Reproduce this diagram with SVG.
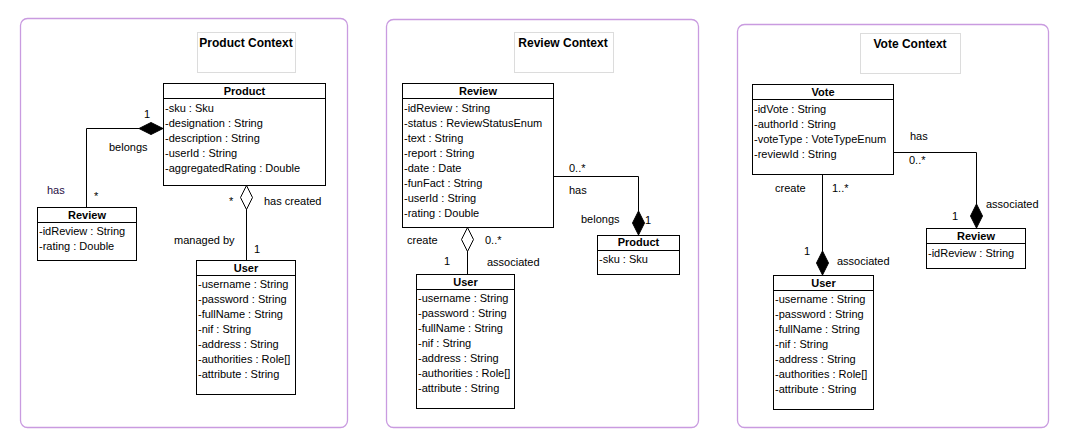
<svg xmlns="http://www.w3.org/2000/svg" width="1072" height="445" viewBox="0 0 1072 445">
<style>
text{font-family:"Liberation Sans",Arial,sans-serif;font-size:11px;fill:#000}
.frame{fill:none;stroke:#C99BE0;stroke-width:1.3}
.ctx{fill:#fff;stroke:#DCDCDC;stroke-width:1}
.ctxt{font-weight:bold;font-size:12px;text-anchor:middle}
.cls{fill:#fff;stroke:#000;stroke-width:1}
.sep{stroke:#000;stroke-width:1}
.ttl{font-weight:bold;text-anchor:middle}
.ln{fill:none;stroke:#000;stroke-width:1}
.fd{fill:#000;stroke:#000;stroke-width:1}
.hd{fill:#fff;stroke:#000;stroke-width:1}
</style>
<rect fill="#fff" x="0" y="0" width="1072" height="445"/>

<g id="product-context">
<rect class="frame" x="20.5" y="18.5" width="327" height="409" rx="7"/>
<rect class="ctx" x="197.5" y="32.5" width="98" height="40"/>
<text class="ctxt" x="246" y="47">Product Context</text>
</g>
<g id="review-context">
<rect class="frame" x="386.5" y="19.5" width="312" height="408" rx="7"/>
<rect class="ctx" x="514.5" y="32.5" width="99" height="40"/>
<text class="ctxt" x="563" y="47">Review Context</text>
</g>
<g id="vote-context">
<rect class="frame" x="737.5" y="24.5" width="311" height="403" rx="7"/>
<rect class="ctx" x="860.5" y="33.5" width="100" height="40"/>
<text class="ctxt" x="910" y="48">Vote Context</text>
</g>

<g id="connectors">
<!-- context 1 -->
<polyline class="ln" points="139,128.5 86.5,128.5 86.5,207"/>
<polygon class="fd" points="163,128.5 151,122.5 139,128.5 151,134.5"/>
<line class="ln" x1="246.5" y1="209" x2="246.5" y2="260"/>
<polygon class="hd" points="246.5,185.5 252.5,197.5 246.5,209.5 240.5,197.5"/>
<!-- context 2 -->
<polyline class="ln" points="553,176.5 638.5,176.5 638.5,211"/>
<polygon class="fd" points="638.5,211 644.5,223 638.5,235 632.5,223"/>
<line class="ln" x1="467.5" y1="251" x2="467.5" y2="274"/>
<polygon class="hd" points="467.5,227.5 473.5,239.5 467.5,251.5 461.5,239.5"/>
<!-- context 3 -->
<polyline class="ln" points="893,152.5 976.5,152.5 976.5,204"/>
<polygon class="fd" points="976.5,204 982.5,216 976.5,228 970.5,216"/>
<line class="ln" x1="822.5" y1="174" x2="822.5" y2="251"/>
<polygon class="fd" points="822.5,251 828.5,263 822.5,275 816.5,263"/>
<!-- labels -->
<text x="144" y="118">1</text>
<text x="109" y="151">belongs</text>
<text x="47" y="194" style="fill:#2a1045">has</text>
<text x="94" y="200">*</text>
<text x="229" y="205">*</text>
<text x="264" y="205">has created</text>
<text x="174" y="244">managed by</text>
<text x="254" y="253">1</text>

<text x="569" y="172">0..*</text>
<text x="569" y="194">has</text>
<text x="581" y="223">belongs</text>
<text x="645" y="224">1</text>
<text x="407" y="244">create</text>
<text x="485" y="244">0..*</text>
<text x="444" y="265">1</text>
<text x="487" y="266">associated</text>

<text x="910" y="140">has</text>
<text x="909" y="164">0..*</text>
<text x="986" y="208">associated</text>
<text x="952" y="220">1</text>
<text x="775" y="192">create</text>
<text x="832" y="192">1..*</text>
<text x="804" y="255">1</text>
<text x="837" y="265">associated</text>
</g>

<g id="product-1">
<rect class="cls" x="163.5" y="83.5" width="162" height="102"/>
<line class="sep" x1="163.5" y1="98.5" x2="325.5" y2="98.5"/>
<text class="ttl" x="244.5" y="95">Product</text>
<text x="165" y="112">-sku : Sku</text>
<text x="165" y="127">-designation : String</text>
<text x="165" y="142">-description : String</text>
<text x="165" y="157">-userId : String</text>
<text x="165" y="172">-aggregatedRating : Double</text>
</g>
<g id="review-1">
<rect class="cls" x="37.5" y="207.5" width="99" height="53"/>
<line class="sep" x1="37.5" y1="222.5" x2="136.5" y2="222.5"/>
<text class="ttl" x="87" y="219">Review</text>
<text x="39" y="235">-idReview : String</text>
<text x="39" y="250">-rating : Double</text>
</g>
<g id="user-1">
<rect class="cls" x="196.5" y="260.5" width="99" height="134"/>
<line class="sep" x1="196.5" y1="275.5" x2="295.5" y2="275.5"/>
<text class="ttl" x="246" y="272">User</text>
<text x="198" y="288">-username : String</text>
<text x="198" y="303">-password : String</text>
<text x="198" y="318">-fullName : String</text>
<text x="198" y="333">-nif : String</text>
<text x="198" y="348">-address : String</text>
<text x="198" y="363">-authorities : Role[]</text>
<text x="198" y="378">-attribute : String</text>
</g>

<g id="review-2">
<rect class="cls" x="402.5" y="83.5" width="151" height="144"/>
<line class="sep" x1="402.5" y1="98.5" x2="553.5" y2="98.5"/>
<text class="ttl" x="478" y="95">Review</text>
<text x="404" y="112">-idReview : String</text>
<text x="404" y="127">-status : ReviewStatusEnum</text>
<text x="404" y="142">-text : String</text>
<text x="404" y="157">-report : String</text>
<text x="404" y="172">-date : Date</text>
<text x="404" y="187">-funFact : String</text>
<text x="404" y="202">-userId : String</text>
<text x="404" y="217">-rating : Double</text>
</g>
<g id="product-2">
<rect class="cls" x="597.5" y="235.5" width="82" height="39"/>
<line class="sep" x1="597.5" y1="250.5" x2="679.5" y2="250.5"/>
<text class="ttl" x="638.5" y="246">Product</text>
<text x="599" y="263">-sku : Sku</text>
</g>
<g id="user-2">
<rect class="cls" x="416.5" y="274.5" width="98" height="134"/>
<line class="sep" x1="416.5" y1="289.5" x2="514.5" y2="289.5"/>
<text class="ttl" x="465.5" y="286">User</text>
<text x="418" y="302">-username : String</text>
<text x="418" y="317">-password : String</text>
<text x="418" y="332">-fullName : String</text>
<text x="418" y="347">-nif : String</text>
<text x="418" y="362">-address : String</text>
<text x="418" y="377">-authorities : Role[]</text>
<text x="418" y="392">-attribute : String</text>
</g>

<g id="vote-3">
<rect class="cls" x="752.5" y="84.5" width="141" height="90"/>
<line class="sep" x1="752.5" y1="99.5" x2="893.5" y2="99.5"/>
<text class="ttl" x="823" y="96">Vote</text>
<text x="754" y="113">-idVote : String</text>
<text x="754" y="128">-authorId : String</text>
<text x="754" y="143">-voteType : VoteTypeEnum</text>
<text x="754" y="158">-reviewId : String</text>
</g>
<g id="review-3">
<rect class="cls" x="926.5" y="228.5" width="99" height="40"/>
<line class="sep" x1="926.5" y1="243.5" x2="1025.5" y2="243.5"/>
<text class="ttl" x="976" y="240">Review</text>
<text x="928" y="257">-idReview : String</text>
</g>
<g id="user-3">
<rect class="cls" x="773.5" y="275.5" width="100" height="134"/>
<line class="sep" x1="773.5" y1="290.5" x2="873.5" y2="290.5"/>
<text class="ttl" x="823.5" y="287">User</text>
<text x="775" y="303">-username : String</text>
<text x="775" y="318">-password : String</text>
<text x="775" y="333">-fullName : String</text>
<text x="775" y="348">-nif : String</text>
<text x="775" y="363">-address : String</text>
<text x="775" y="378">-authorities : Role[]</text>
<text x="775" y="393">-attribute : String</text>
</g>
</svg>
